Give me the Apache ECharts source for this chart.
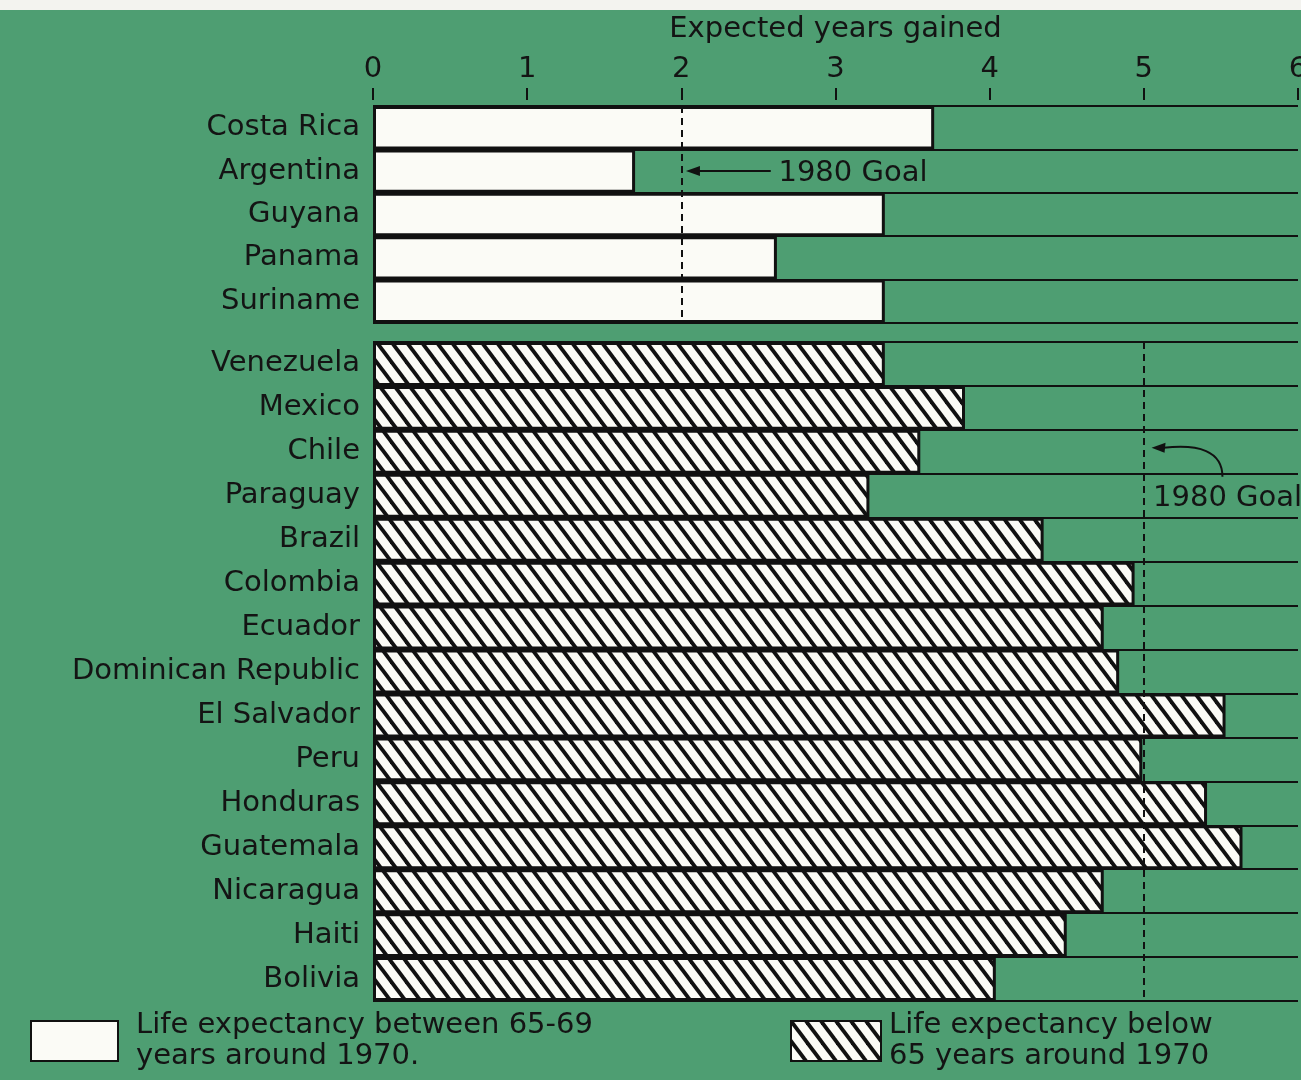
<!DOCTYPE html>
<html><head><meta charset="utf-8">
<script src="https://cdn.jsdelivr.net/npm/echarts@6/dist/echarts.min.js"></script>
<style>html,body{margin:0;padding:0;background:#4e9e72}#c{width:1301px;height:1080px}</style>
</head><body><div id="c"></div>
<script>
// ---- data ----
const groupACategories = ['Costa Rica', 'Argentina', 'Guyana', 'Panama', 'Suriname'];
const groupAValues = [3.64, 1.70, 3.32, 2.62, 3.32];
const groupBCategories = ['Venezuela', 'Mexico', 'Chile', 'Paraguay', 'Brazil', 'Colombia', 'Ecuador',
  'Dominican Republic', 'El Salvador', 'Peru', 'Honduras', 'Guatemala', 'Nicaragua', 'Haiti', 'Bolivia'];
const groupBValues = [3.32, 3.84, 3.55, 3.22, 4.35, 4.94, 4.74, 4.84, 5.53, 4.99, 5.41, 5.64, 4.74, 4.50, 4.04];
const xMin = 0, xMax = 6, xStep = 1;
const goalA = 2, goalB = 5;
const axisTitle = 'Expected years gained';
const goalLabel = '1980 Goal';
const seriesNameA = 'Life expectancy between 65-69\nyears around 1970.';
const seriesNameB = 'Life expectancy below\n65 years around 1970';

// ---- style ----
const GREEN = '#4e9e72';
const INK = '#141414';
const FONT = 'DejaVu Sans';
const FS = 29;

function makeHatch() {
  const p = 15, h = 20;
  const c = document.createElement('canvas');
  c.width = p; c.height = h;
  const g = c.getContext('2d');
  g.fillStyle = '#fbfbf6'; g.fillRect(0, 0, p, h);
  g.strokeStyle = '#111'; g.lineWidth = 3.8;
  for (const dx of [-p, 0, p]) {
    g.beginPath(); g.moveTo(dx - p * 0.3, -h * 0.3); g.lineTo(dx + p * 1.3, h * 1.3); g.stroke();
  }
  return c;
}
const hatch = { image: makeHatch(), repeat: 'repeat' };

const chart = echarts.init(document.getElementById('c'), null, { renderer: 'canvas' });

const catAxisCommon = {
  type: 'category', inverse: true,
  axisLine: { show: false }, axisTick: { show: false },
  axisLabel: { interval: 0, margin: 13, color: INK, fontFamily: FONT, fontSize: FS },
  splitLine: { show: true, interval: 0, lineStyle: { color: '#111', width: 2 } }
};

const option = {
  backgroundColor: GREEN,
  animation: false,
  textStyle: { fontFamily: FONT },
  grid: [
    { left: 373, right: 3, top: 106, height: 217, outerBoundsMode: 'none', containLabel: false },
    { left: 373, right: 3, top: 342, height: 659, outerBoundsMode: 'none', containLabel: false }
  ],
  xAxis: [
    {
      gridIndex: 0, type: 'value', position: 'top', min: xMin, max: xMax, interval: xStep, offset: 6,
      name: axisTitle, nameLocation: 'middle', nameGap: 56, nameMoveOverlap: false,
      nameTextStyle: { color: INK, fontFamily: FONT, fontSize: FS },
      axisLine: { show: false },
      axisTick: { show: true, length: 12, lineStyle: { color: '#111', width: 2 } },
      axisLabel: { color: INK, fontFamily: FONT, fontSize: FS, margin: 16, hideOverlap: false },
      splitLine: { show: false }
    },
    { gridIndex: 1, type: 'value', min: xMin, max: xMax, interval: xStep, show: false, splitLine: { show: false } }
  ],
  yAxis: [
    Object.assign({ gridIndex: 0, data: groupACategories }, catAxisCommon),
    Object.assign({ gridIndex: 1, data: groupBCategories }, catAxisCommon)
  ],
  legend: [
    {
      data: [seriesNameA], left: 30, top: 1004, padding: 0, itemWidth: 87, itemHeight: 40, icon: 'rect',
      selectedMode: false,
      itemStyle: { borderColor: '#111', borderWidth: 2 },
      textStyle: { color: INK, fontFamily: FONT, fontSize: FS, lineHeight: 31, padding: [12, 0, 0, 13] }
    },
    {
      data: [seriesNameB], left: 790, top: 1004, padding: 0, itemWidth: 90, itemHeight: 40, icon: 'rect',
      selectedMode: false,
      itemStyle: { borderColor: '#111', borderWidth: 2 },
      textStyle: { color: INK, fontFamily: FONT, fontSize: FS, lineHeight: 31, padding: [12, 0, 0, 3] }
    }
  ],
  series: [
    {
      name: seriesNameA, type: 'bar', xAxisIndex: 0, yAxisIndex: 0, data: groupAValues,
      barWidth: '100%',
      itemStyle: { color: '#fbfbf6', borderColor: '#111', borderWidth: 3 },
      markLine: {
        silent: true, symbol: 'none', label: { show: false },
        lineStyle: { color: '#111', type: [7, 5], width: 2 },
        data: [{ xAxis: goalA }]
      }
    },
    {
      name: seriesNameB, type: 'bar', xAxisIndex: 1, yAxisIndex: 1, data: groupBValues,
      barWidth: '100%',
      itemStyle: { color: hatch, borderColor: '#111', borderWidth: 3 },
      markLine: {
        silent: true, symbol: 'none', label: { show: false },
        lineStyle: { color: '#111', type: [7, 5], width: 2 },
        data: [{ xAxis: goalB }]
      }
    }
  ]
};
chart.setOption(option);

// ---- annotations placed through the chart's own scales ----
const P = (gi, x, idx) => chart.convertToPixel({ gridIndex: gi }, [x, idx]);
const argIdx = groupACategories.indexOf('Argentina');
const parIdx = groupBCategories.indexOf('Paraguay');
const chiIdx = groupBCategories.indexOf('Chile');

const aTip = P(0, goalA + 0.03, argIdx);
const aTail = P(0, goalA + 0.58, argIdx);
const aText = P(0, goalA + 0.63, argIdx);
const bText = P(1, goalB + 0.06, parIdx);
const chiY = P(1, goalB, chiIdx)[1];
const parY = P(1, goalB, parIdx)[1];
const bStart = [P(1, goalB + 0.51, parIdx)[0], parY - 19];
const bTip = [P(1, goalB + 0.05, chiIdx)[0], chiY - 4];

chart.setOption({
  graphic: [
    { type: 'rect', shape: { x: 0, y: 0, width: 1301, height: 10 }, style: { fill: '#f3f3ef' }, z: 100 },
    { type: 'line', shape: { x1: aTip[0] + 12, y1: aTip[1], x2: aTail[0], y2: aTail[1] }, style: { stroke: '#111', lineWidth: 2 }, z: 100 },
    { type: 'polygon', shape: { points: [[aTip[0], aTip[1]], [aTip[0] + 14, aTip[1] - 5], [aTip[0] + 14, aTip[1] + 5]] }, style: { fill: '#111' }, z: 100 },
    { type: 'text', x: aText[0], y: aText[1] + 2, style: { text: goalLabel, fill: INK, font: FS + 'px "' + FONT + '"', verticalAlign: 'middle', align: 'left' }, z: 100 },
    { type: 'text', x: bText[0], y: bText[1] + 3, style: { text: goalLabel, fill: INK, font: FS + 'px "' + FONT + '"', verticalAlign: 'middle', align: 'left' }, z: 100 },
    {
      type: 'bezierCurve',
      shape: { x1: bStart[0], y1: bStart[1], cpx1: bStart[0], cpy1: bStart[1] - 26, cpx2: bStart[0] - 24, cpy2: bTip[1] - 4, x2: bTip[0] + 12, y2: bTip[1] },
      style: { stroke: '#111', lineWidth: 2, fill: null }, z: 100
    },
    { type: 'polygon', shape: { points: [[bTip[0], bTip[1]], [bTip[0] + 14, bTip[1] - 5], [bTip[0] + 13, bTip[1] + 5]] }, style: { fill: '#111' }, z: 100 }
  ]
});
</script>
</body></html>
